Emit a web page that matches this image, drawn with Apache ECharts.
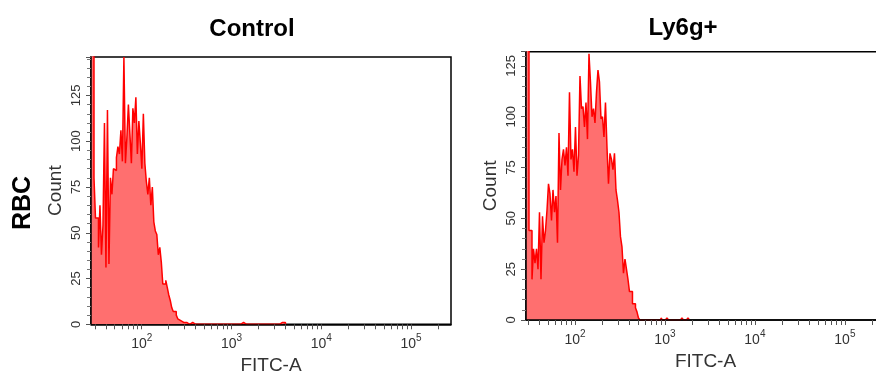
<!DOCTYPE html>
<html><head><meta charset="utf-8">
<script src="https://cdn.jsdelivr.net/npm/echarts@6/dist/echarts.min.js"></script>
<style>html,body{margin:0;padding:0;background:#fff}#c{width:876px;height:374px}</style>
</head><body><div id="c"></div>
<script>
// ---- data ----
const panelTitles = ['Control', 'Ly6g+'];
const rowLabel = 'RBC';
const xAxisName = 'FITC-A';
const yAxisName = 'Count';
const xDecadeLabels = [2, 3, 4, 5];          // labels 10^n
const yInterval = 25;

// histogram channels: log10(FITC) width of one channel
const binLogWidth = 1 / 60;

const controlLogRange = [1.435, 5.446];
const controlCountMax = 146;
const controlCounts = [160,160,80,58,58,42,65,38,54,110,31,117,33,80,71,85,84,91,97,93,
  106,89,146,88,102,120,104,88,118,110,124,93,111,99,85,115,88,78,71,80,
  65,75,56,51,49,38,42,34,22,22,24,20,16,13,9,7,7,5,3,2,1,1];
const controlTailChannels = [63, 64, 67, 70, 86, 92, 101, 127, 129];

const ly6gLogRange = [1.456, 5.446];
const ly6gCountMax = 132;
const ly6gCounts = [160,160,44,44,20,35,28,35,25,53,20,51,38,44,54,67,62,49,64,53,
  61,38,92,64,79,84,76,85,71,112,79,84,73,95,71,81,120,104,105,95,
  107,89,131,117,100,104,97,112,123,117,99,100,90,107,85,67,82,79,74,82,
  64,59,53,41,36,23,30,25,20,14,14,8,8,6,4,1];
const ly6gTailChannels = [90, 94, 104, 108];

// ---- build ----
function buildData(counts, tail, logMin) {
  const n = Math.max(counts.length, Math.max.apply(null, tail) + 1);
  const full = [];
  for (let i = 0; i < n; i++) full.push(i < counts.length ? counts[i] : 0);
  tail.forEach(c => { full[c] += 1; });
  const data = full.map((v, i) => [logMin + i * binLogWidth, v]);
  data.push([logMin + n * binLogWidth, 0]);
  return data;
}
function logTicks(lo, hi) {
  const t = [];
  for (let n = 1; n <= 5; n++) for (let k = 1; k <= 9; k++) {
    const v = n + Math.log10(k);
    if (v >= lo && v <= hi) t.push(v);
  }
  return t;
}
const FONT = '"Liberation Sans", Arial, sans-serif';

function xAxisFor(idx, range) {
  return {
    gridIndex: idx, type: 'value', min: range[0], max: range[1], z: 5,
    axisLine: { show: true, onZero: false, lineStyle: { color: '#000', width: 1.5 } },
    axisTick: { show: true, customValues: logTicks(range[0], range[1]), length: 5,
      lineStyle: { color: '#555', width: 1 } },
    axisLabel: {
      customValues: xDecadeLabels, margin: 9,
      formatter: v => '{b|10}{s|' + Math.round(v) + '}',
      rich: {
        b: { fontSize: 14, fontFamily: FONT, color: '#333', lineHeight: 18, verticalAlign: 'bottom' },
        s: { fontSize: 10, fontFamily: FONT, color: '#333', lineHeight: 18, verticalAlign: 'top' }
      }
    },
    splitLine: { show: false },
    name: xAxisName, nameLocation: 'middle', nameGap: 30,
    nameTextStyle: { fontSize: 19, color: '#333', fontFamily: FONT }
  };
}
function yAxisFor(idx, max) {
  return {
    gridIndex: idx, type: 'value', min: 0, max: max, interval: yInterval, z: 5,
    axisLine: { show: true, lineStyle: { color: '#000', width: 1.5 } },
    axisTick: { show: true, length: 5, lineStyle: { color: '#555' } },
    minorTick: { show: true, splitNumber: 5, length: 4, lineStyle: { color: '#777' } },
    axisLabel: { rotate: 90, fontSize: 13, color: '#333', fontFamily: FONT, margin: 8, showMaxLabel: false },
    splitLine: { show: false }, minorSplitLine: { show: false },
    name: yAxisName, nameLocation: 'middle', nameGap: 26,
    nameTextStyle: { fontSize: 19, color: '#333', fontFamily: FONT }
  };
}
function seriesFor(idx, data) {
  return {
    type: 'line', xAxisIndex: idx, yAxisIndex: idx, data: data, step: 'end',
    symbol: 'none', showSymbol: false, clip: true,
    lineStyle: { color: '#ff0000', width: 1.5 },
    areaStyle: { color: '#ff6f6f', opacity: 1 }
  };
}

const chart = echarts.init(document.getElementById('c'), null, { renderer: 'canvas' });
chart.setOption({
  animation: false,
  backgroundColor: '#fff',
  grid: [
    { left: 91, top: 57, width: 360, height: 267.3, show: true, borderColor: '#000', borderWidth: 1.5, outerBoundsMode: 'none', containLabel: false },
    { left: 526, top: 51.7, width: 359, height: 268.3, show: true, borderColor: '#000', borderWidth: 1.5, outerBoundsMode: 'none', containLabel: false }
  ],
  xAxis: [xAxisFor(0, controlLogRange), xAxisFor(1, ly6gLogRange)],
  yAxis: [yAxisFor(0, controlCountMax), yAxisFor(1, ly6gCountMax)],
  series: [
    seriesFor(0, buildData(controlCounts, controlTailChannels, controlLogRange[0])),
    seriesFor(1, buildData(ly6gCounts, ly6gTailChannels, ly6gLogRange[0]))
  ],
  graphic: [
    { type: 'text', x: 252, y: 29, style: { text: panelTitles[0], font: 'bold 24px ' + FONT, fill: '#000', textAlign: 'center', textVerticalAlign: 'middle' } },
    { type: 'text', x: 683, y: 28, style: { text: panelTitles[1], font: 'bold 24px ' + FONT, fill: '#000', textAlign: 'center', textVerticalAlign: 'middle' } },
    { type: 'text', x: 23, y: 203, rotation: Math.PI / 2, style: { text: rowLabel, font: 'bold 25px ' + FONT, fill: '#000', textAlign: 'center', textVerticalAlign: 'middle' } }
  ]
});
</script></body></html>
